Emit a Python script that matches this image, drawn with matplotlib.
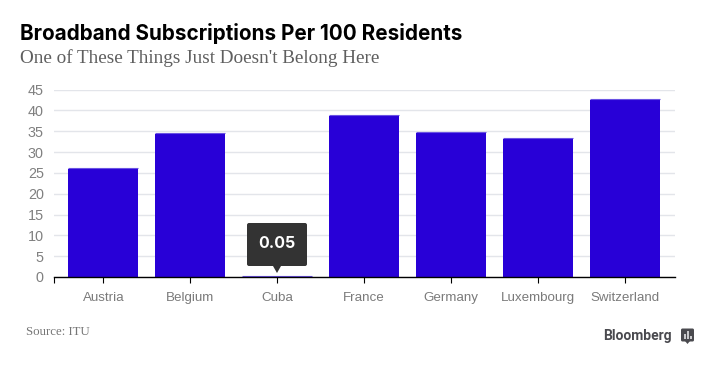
import matplotlib
matplotlib.use('Agg')
import matplotlib.pyplot as plt
from matplotlib.patches import FancyBboxPatch, Polygon, Rectangle
from matplotlib.transforms import Affine2D

countries = ['Austria', 'Belgium', 'Cuba', 'France', 'Germany', 'Luxembourg', 'Switzerland']
subs = [25.9, 34.3, 0.05, 38.6, 34.5, 33.1, 42.4]
y_ticks = [0, 5, 10, 15, 20, 25, 30, 35, 40, 45]

W, H = 720, 370
fig = plt.figure(figsize=(W / 100, H / 100), dpi=100, facecolor='white')

# main axes placed by pixel position
ax = fig.add_axes([53.5 / W, 1 - 277 / H, (675 - 53.5) / W, (277 - 89.5) / H])
bars = ax.bar(range(len(countries)), subs, width=0.805, color='#2800d7', linewidth=0, zorder=3)

# lighter stripe along the top of each bar, lifted a pixel so Cuba's clears the axis
lift = ax.transData + Affine2D().translate(0, 1)
for b, v in zip(bars, subs):
    ax.plot([b.get_x(), b.get_x() + b.get_width()], [v, v], color='#6a52e3', linewidth=0.8,
            solid_capstyle='butt', transform=lift, zorder=3, clip_on=False)

ax.set_xlim(-0.575, 6.575)
ax.set_ylim(0, 45)
ax.set_yticks(y_ticks)
ax.set_xticks(range(len(countries)))
ax.set_xticks([-0.575], minor=True)
ax.set_xticklabels(countries, family='Liberation Sans', fontsize=9.6, color='#7a7a7a')
ax.set_yticklabels([str(v) for v in y_ticks], family='Liberation Sans', fontsize=10.4, color='#808080')
ax.grid(axis='y', color='#e3e5ea', linewidth=1.0, zorder=0)
ax.set_axisbelow(True)
for s in ['top', 'right', 'left']:
    ax.spines[s].set_visible(False)
ax.spines['bottom'].set_color('black')
ax.spines['bottom'].set_linewidth(1.0)
ax.spines['bottom'].set_zorder(4)
ax.tick_params(axis='y', length=0, pad=7)
ax.tick_params(axis='x', which='both', length=4, width=0.8, color='black', pad=7)

# overlay in pixel coordinates for titles and the callout
ov = fig.add_axes([0, 0, 1, 1], facecolor='none')
ov.set_xlim(0, W)
ov.set_ylim(H, 0)
ov.axis('off')

ov.text(20.5, 33, 'Broadband Subscriptions Per 100 Residents', family='Inter', fontweight='bold',
        fontsize=14.87, color='black', va='center', ha='left')
ov.text(20.5, 58, "One of These Things Just Doesn't Belong Here", family='Liberation Serif',
        fontsize=13.77, color='#5f5f5f', va='center', ha='left')

ov.add_patch(FancyBboxPatch((249, 225), 56, 39, boxstyle='round,pad=2,rounding_size=2',
                            fc='#333333', ec='none', zorder=6))
ov.add_patch(Polygon([[273, 266], [281, 266], [277, 273]], closed=True, fc='#333333', ec='none', zorder=6))
ov.text(277, 243.5, '0.05', family='Inter', fontweight='bold', fontsize=11.5,
        color='white', ha='center', va='center', zorder=7)

ov.text(25.5, 332, 'Source: ITU', family='Liberation Serif', fontsize=9.3, color='#767676',
        va='center', ha='left')
ov.text(603.5, 336, 'Bloomberg', family='Roboto', fontweight='bold', fontsize=10, color='#4a4a4f',
        va='center', ha='left')

# logo mark
ov.add_patch(FancyBboxPatch((681.5, 329), 12, 12, boxstyle='round,pad=0.5,rounding_size=1.5',
                            fc='#4a4a4f', ec='none'))
ov.add_patch(Polygon([[685, 341], [690, 341], [687.5, 344]], closed=True, fc='#4a4a4f', ec='none'))
for bx, by, bh in [(684, 334, 5), (687, 331, 8), (690, 336, 3)]:
    ov.add_patch(Rectangle((bx, by), 1.5, bh, fc='#c9c9cc', ec='none'))

fig.savefig('out.png', dpi=100, facecolor='white')
